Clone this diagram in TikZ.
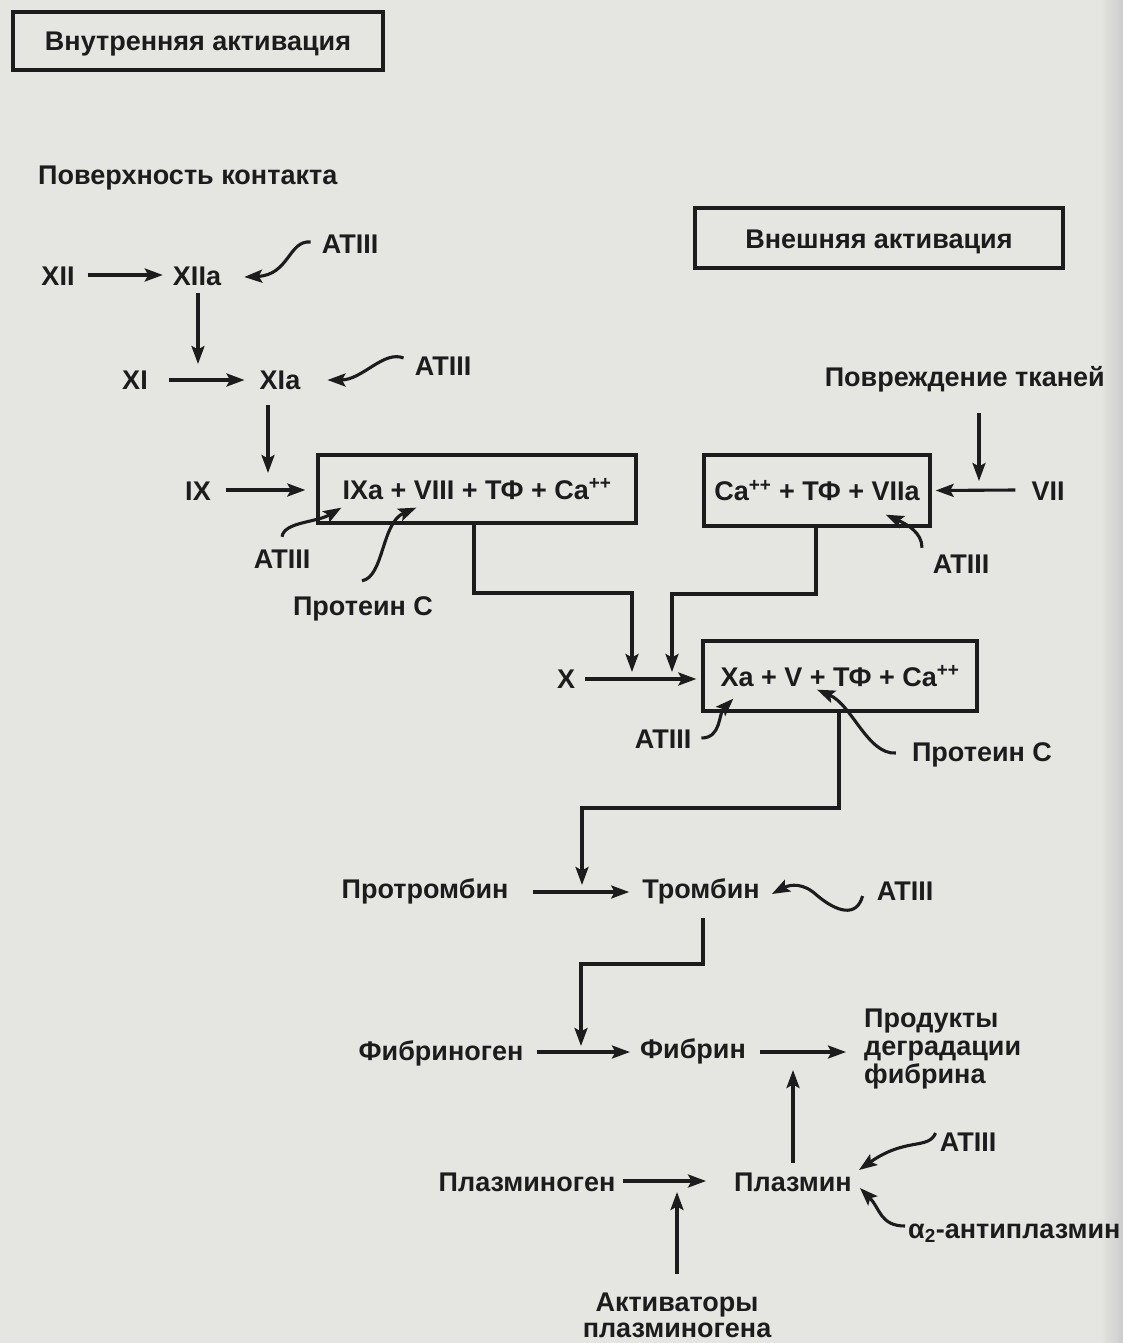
\documentclass[tikz,border=0pt]{standalone}
\usepackage{fontspec}
\setmainfont{Liberation Sans}
\usetikzlibrary{arrows.meta,calc}
\definecolor{paper}{RGB}{229,229,226}
\definecolor{ink}{RGB}{28,28,28}
\begin{document}
\begin{tikzpicture}[x=1pt,y=-1pt,
  every node/.style={font=\fontsize{27}{28}\selectfont\bfseries, text=ink},
  lbl/.style={inner sep=0pt, text height=20pt, text depth=0pt},
  boxn/.style={draw=ink, line width=3.3pt, inner sep=0pt, text height=20pt, text depth=0pt},
  arr/.style={draw=ink, line width=3.1pt, -{Stealth[length=18pt,width=13pt,inset=3.5pt]}}]
\fill[paper] (0,0) rectangle (1123,1343);
\shade[left color=paper, right color=gray!40] (1100,0) rectangle (1123,1343);
\useasboundingbox (0,0) rectangle (1123,1343);

% nodes
\node[boxn, minimum width=370pt, minimum height=58pt] (intr) at (198,41) {Внутренняя активация};
\node[lbl, anchor=west] (contact) at (38,175) {Поверхность контакта};
\node[boxn, minimum width=368pt, minimum height=60pt] (extr) at (879,238) {Внешняя активация};
\node[lbl] (xii) at (58,275) {XII};
\node[lbl] (xiia) at (197,275) {XIIa};
\node[lbl] (at1) at (350,243) {ATIII};
\node[lbl] (xi) at (135,379) {XI};
\node[lbl] (xia) at (280,379) {XIa};
\node[lbl] (at2) at (443,365) {ATIII};
\node[lbl, anchor=east] (inj) at (1105,376) {Повреждение тканей};
\node[lbl] (ix) at (198,490) {IX};
\node[boxn, minimum width=318pt, minimum height=68pt] (b9) at (477,489) {IXa + VIII + ТФ + Ca\textsuperscript{++}};
\node[boxn, minimum width=226pt, minimum height=71pt] (b7) at (817,490.5) {Ca\textsuperscript{++} + ТФ + VIIa};
\node[lbl] (vii) at (1048,490) {VII};
\node[lbl] (at3) at (282,558) {ATIII};
\node[lbl] (pc1) at (363,605) {Протеин С};
\node[lbl] (at4) at (961,563) {ATIII};
\node[lbl] (x) at (566,678) {X};
\node[boxn, minimum width=274pt, minimum height=70pt] (b10) at (840,676) {Xa + V + ТФ + Ca\textsuperscript{++}};
\node[lbl] (at5) at (663,738) {ATIII};
\node[lbl] (pc2) at (982,751) {Протеин С};
\node[lbl] (prot) at (425,888) {Протромбин};
\node[lbl] (thr) at (701,888) {Тромбин};
\node[lbl] (at6) at (905,890) {ATIII};
\node[lbl] (fgn) at (441,1050) {Фибриноген};
\node[lbl] (fib) at (693,1048) {Фибрин};
\node[inner sep=0pt, align=left, anchor=west] (fdp) at (864,1049) {Продукты\\деградации\\фибрина};
\node[lbl] (at7) at (968,1141) {ATIII};
\node[lbl] (plg) at (527,1181) {Плазминоген};
\node[lbl] (pl) at (793,1181) {Плазмин};
\node[lbl, anchor=west] (a2) at (908,1228) {α\textsubscript{2}-антиплазмин};
\node[inner sep=0pt, align=center, font=\fontsize{27}{26}\selectfont\bfseries] (act) at (677,1315) {Активаторы\\плазминогена};

% junction points on arrows
\coordinate (j1) at (198,364);
\coordinate (j2) at (268,473);
\coordinate (j3) at (979,481);
\coordinate (j4) at (632,672);
\coordinate (j5) at (672,672);
\coordinate (j6) at (582,885);
\coordinate (j7) at (581,1046);
\coordinate (j8) at (793,1070);
\coordinate (j9) at (677,1192);

% connectors
\draw[arr] ($(xii.east)+(13,0)$) -- ($(xiia.west)+(-10,0)$);
\draw[arr] ($(at1.west)+(-11,-1)$) .. controls +(-22,-2) and +(45,-2) .. ($(xiia.east)+(23,2)$);
\draw[arr] ($(xiia.south)+(1,8)$) -- (j1);
\draw[arr] ($(xi.east)+(21,1)$) -- ($(xia.west)+(-15,1)$);
\draw[arr] ($(at2.west)+(-11,-7)$) .. controls +(-20,-8) and +(35,0) .. ($(xia.east)+(27,1)$);
\draw[arr] ($(xia.south)+(-12,16)$) -- (j2);
\draw[arr] ($(ix.east)+(15,0)$) -- ($(b9.west)+(-11,1)$);
\draw[arr] ($(at3.north)+(0,-11)$) .. controls +(2,-15) and +(-25,15) .. ($(b9.south west)+(25,-17)$);
\draw[arr] ($(pc1.north)+(-1,-14)$) .. controls +(22,-4) and +(-35,15) .. ($(b9.south west)+(100,-17)$);
\draw[arr] ($(j3|-inj.south)+(0,27)$) -- (j3);
\draw[arr] ($(vii.west)+(-16,0)$) -- ($(b7.east)+(4,0)$);
\draw[arr] ($(at4.north)+(-39,-5)$) .. controls +(0,-15) and +(22,10) .. ($(b7.south east)+(-46,-13)$);
\draw[arr] ($(b9.south)+(-3,0)$) |- ($(j4)+(0,-79)$) -- (j4);
\draw[arr] ($(b7.south)+(-1,0)$) |- ($(j5)+(0,-78)$) -- (j5);
\draw[arr] ($(x.east)+(10,1)$) -- ($(b10.west)+(-5,3)$);
\draw[arr] ($(at5.east)+(10,0)$) .. controls +(20,0) and +(-15,15) .. ($(b10.south west)+(32,-14)$);
\draw[arr] ($(pc2.west)+(-16,2)$) .. controls +(-28,2) and +(35,15) .. ($(b10.south)+(-23,-23)$);
\draw[arr] ($(b10.south)+(-1,0)$) |- ($(j6)+(0,-77)$) -- (j6);
\draw[arr] ($(prot.east)+(24,4)$) -- ($(thr.west)+(-13,4)$);
\draw[arr] ($(at6.west)+(-14,6)$) .. controls +(-6,22) and +(20,17) .. ($(at6.west)+(-60,5)$) .. controls +(-13,-12) and +(19,-10) .. ($(thr.east)+(12,6)$);
\draw[arr] ($(thr.south)+(2,20)$) |- ($(j7)+(0,-82)$) -- (j7);
\draw[arr] ($(fgn.east)+(13,2)$) -- ($(fib.west)+(-10,4)$);
\draw[arr] ($(fib.east)+(14,4)$) -- ($(fdp.west)+(-18,3)$);
\draw[arr] ($(pl.north)+(0,-8)$) -- (j8);
\draw[arr] ($(plg.east)+(7,0)$) -- ($(pl.west)+(-28,0)$);
\draw[arr] ($(act.north)+(0,-18)$) -- (j9);
\draw[arr] ($(at7.west)+(-4,-8)$) .. controls +(-7,17) and +(47,-33) .. ($(pl.east)+(7,-11)$);
\draw[arr] ($(a2.west)+(-3,-2)$) .. controls +(-25,0) and +(20,20) .. ($(pl.east)+(8,7)$);
\end{tikzpicture}
\end{document}
